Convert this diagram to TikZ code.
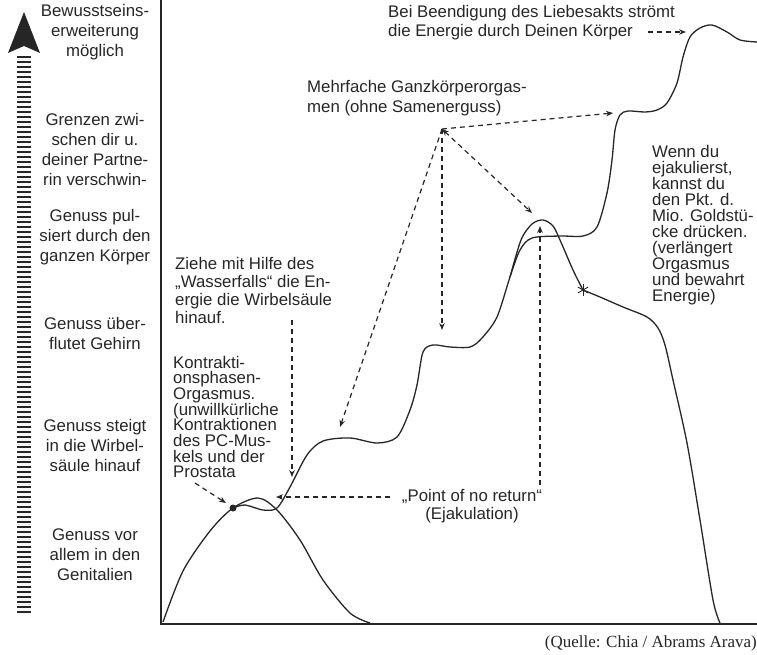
\documentclass[tikz,border=0pt]{standalone}
\usepackage{fontspec}
\setmainfont{Liberation Sans}
\newfontfamily\quellefont{Liberation Serif}
\usetikzlibrary{arrows.meta}
\tikzset{
  lbl/.style={align=center, inner sep=0pt, text=black!85, font=\fontsize{16.8}{20}\selectfont},
  txt/.style={align=left, inner sep=0pt, anchor=west, text=black!85, font=\fontsize{16.8}{#1}\selectfont},
  txt/.default=16,
  kurve/.style={line width=1.3pt, black!85},
  pfeil/.style={line width=1.2pt, black!85, dash pattern=on 5pt off 4pt, -{Stealth[length=7pt,width=5.5pt]}},
}
\begin{document}
\begin{tikzpicture}[x=1pt,y=-1pt]
\useasboundingbox (0,0) rectangle (757,655);
% scale on the left
\draw[line width=14pt, black!85, dash pattern=on 2.2pt off 2.8pt] (24,56) -- (24,613);
\fill[black!85] (24,12) -- (40,53) -- (24,46) -- (8,53) -- cycle;
\node[lbl] (lvl1) at (95,32.5) {Bewusstseins-\\erweiterung\\möglich};
\node[lbl] (lvl2) at (95,149) {Grenzen zwi-\\schen dir u.\\deiner Partne-\\rin verschwin-};
\node[lbl] (lvl3) at (95,237) {Genuss pul-\\siert durch den\\ganzen Körper};
\node[lbl] (lvl4) at (95,333) {Genuss über-\\flutet Gehirn};
\node[lbl] (lvl5) at (95,445) {Genuss steigt\\in die Wirbel-\\säule hinauf};
\node[lbl] (lvl6) at (95,555) {Genuss vor\\allem in den\\Genitalien};
% axes
\draw[line width=1.5pt, black!85] (161,0) -- (161,624) -- (757,624);
% curves
\draw[kurve] plot[smooth] coordinates {(163,622) (183,571) (210,531) (233,508) (258,498) (277,510) (300,540) (323,580) (350,613) (370,623)};
\draw[kurve] plot[smooth] coordinates {(233,508) (245,505) (263,510) (277,508) (290,487) (307,455) (323,441) (350,438) (377,443) (397,437) (410,410) (417,385) (423,352) (433,345) (450,347) (470,347) (482,338) (497,317) (510,277) (520,250) (532,238) (560,236) (583,236) (597,227) (607,193) (612,160) (615,130) (620,115) (628,111) (645,112) (657,110) (667,103) (677,83) (683,57) (690,37) (700,28) (712,25) (727,32) (740,40) (757,42)};
\draw[kurve] plot[smooth] coordinates {(510,277) (521,240) (532,224) (543,220) (553,226) (560,240) (573,270) (583,290)};
\draw[kurve] plot[smooth] coordinates {(583,290) (600,297) (623,307) (647,317) (658,328) (665,345) (673,380) (687,443) (700,520) (713,600) (720,623)};
\fill[black!85] (233,508) circle (3.5);
\foreach \a in {90,30,-30}
  \draw[line width=0.9pt, black!85] (583,290) ++(\a:6) -- ++(\a+180:12);
% texts
\node[txt=19.5] (ende) at (388,22.5) {Bei Beendigung des Liebesakts strömt\\die Energie durch Deinen Körper};
\node[txt=20] (mehrfach) at (307,98) {Mehrfache Ganzkörperorgas-\\men (ohne Samenerguss)};
\node[txt] (pkt) at (652,225) {Wenn du\\ejakulierst,\\kannst du\\den Pkt. d.\\Mio. Goldstü-\\cke drücken.\\(verlängert\\Orgasmus\\und bewahrt\\Energie)};
\node[txt=18] (ziehe) at (175,290.5) {Ziehe mit Hilfe des\\„Wasserfalls“ die En-\\ergie die Wirbelsäule\\hinauf.};
\node[txt=15.7] (kontr) at (173,417) {Kontrakti-\\onsphasen-\\Orgasmus.\\(unwillkürliche\\Kontraktionen\\des PC-Mus-\\kels und der\\Prostata};
\node[lbl, font=\fontsize{16.8}{18}\selectfont] (noreturn) at (472,506) {„Point of no return“\\(Ejakulation)};
\node[anchor=east, inner sep=0pt, text=black!85, font=\quellefont\fontsize{17}{17}\selectfont] (quelle) at (757,643) {(Quelle: Chia / Abrams Arava)};
% arrows
\coordinate (endeA) at (648,32);
\coordinate (endeB) at (686,32);
\coordinate (apex) at (442,129);
\coordinate (gipfel1) at (613,113);
\coordinate (gipfel2) at (532,213);
\coordinate (gipfel3) at (442,330);
\coordinate (gipfel4) at (340,427);
\coordinate (zieheA) at (292,320);
\coordinate (zieheB) at (292,477);
\coordinate (prostA) at (195,483);
\coordinate (punkt) at (226,503);
\coordinate (nrA) at (390,497);
\coordinate (nrB) at (276,497);
\coordinate (nrC) at (540,485);
\coordinate (nrD) at (540,226);
\draw[pfeil] (endeA) -- (endeB);
\draw[pfeil] (apex) -- (gipfel1);
\draw[pfeil, {Stealth[length=7pt,width=5.5pt]}-{Stealth[length=7pt,width=5.5pt]}] (apex) -- (gipfel2);
\draw[pfeil] (apex) -- (gipfel3);
\draw[pfeil] (apex) -- (gipfel4);
\draw[pfeil] (zieheA) -- (zieheB);
\draw[pfeil] (prostA) -- (punkt);
\draw[pfeil] (nrA) -- (nrB);
\draw[pfeil] (nrC) -- (nrD);
\end{tikzpicture}
\end{document}
